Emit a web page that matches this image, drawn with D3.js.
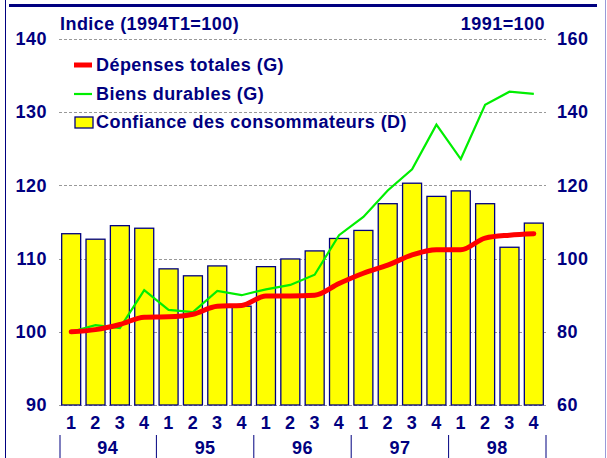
<!DOCTYPE html>
<html>
<head>
<meta charset="utf-8">
<script src="https://cdn.jsdelivr.net/npm/d3@7/dist/d3.min.js"></script>
<style>
  body { margin: 0; background: #fff; }
  svg { display: block; font-family: "Liberation Sans", Arial, sans-serif; font-weight: bold; }
  svg text { font-size: 18px; letter-spacing: 0.45px; }
</style>
</head>
<body>
<svg id="chart" width="607" height="458"></svg>
<script>
// quarters 1994T1 .. 1998T4
var quarters = ['1','2','3','4','1','2','3','4','1','2','3','4','1','2','3','4','1','2','3','4'];
var years = ['94', '95', '96', '97', '98'];

// left axis (1994T1=100)
var depensesTotales = [100, 100.3, 101, 102, 102.05, 102.4, 103.5, 103.6, 104.9, 104.9,
                       105, 106.6, 108, 109.1, 110.5, 111.2, 111.2, 112.8, 113.2, 113.4];
var biensDurables = [100, 100.9, 100.5, 105.7, 103, 102.7, 105.6, 105, 105.8, 106.4,
                     107.8, 113.2, 115.7, 119.3, 122.2, 128.3, 123.6, 131, 132.8, 132.5];
// right axis (1991=100)
var confiance = [106.8, 105.3, 109, 108.3, 97.2, 95.3, 98, 87, 97.8, 99.9,
                 102.1, 105.5, 107.7, 115, 120.6, 117, 118.5, 115, 103.1, 109.7];

var leftTicks = [90, 100, 110, 120, 130, 140];
var rightTicks = [60, 80, 100, 120, 140, 160];
var legendItems = ['Dépenses totales (G)', 'Biens durables (G)', 'Confiance des consommateurs (D)'];

var navy = '#000080';
var svg = d3.select('#chart');

var plotLeft = 59, plotRight = 546, plotTop = 39, plotBottom = 405;

var x = d3.scaleBand().domain(d3.range(quarters.length)).range([plotLeft, plotRight])
  .paddingInner(0.22).paddingOuter(0.11);
var yL = d3.scaleLinear().domain([90, 140]).range([plotBottom, plotTop]);
var yR = d3.scaleLinear().domain([60, 160]).range([plotBottom, plotTop]);

// frame
svg.append('line').attr('x1', 5.5).attr('x2', 5.5).attr('y1', 0).attr('y2', 458)
  .attr('stroke', navy).attr('stroke-width', 1);
svg.append('line').attr('x1', 9).attr('x2', 597).attr('y1', 5.5).attr('y2', 5.5)
  .attr('stroke', navy).attr('stroke-width', 3);
svg.append('line').attr('x1', 605.5).attr('x2', 605.5).attr('y1', 0).attr('y2', 458)
  .attr('stroke', '#9a9ad8').attr('stroke-width', 1);

// gridlines
svg.append('g').selectAll('line').data(leftTicks).enter().append('line')
  .attr('x1', plotLeft).attr('x2', plotRight)
  .attr('y1', function(d) { return Math.round(yL(d)) + 0.5; })
  .attr('y2', function(d) { return Math.round(yL(d)) + 0.5; })
  .attr('stroke', '#999').attr('stroke-width', 1.2).attr('stroke-dasharray', '3,2');

// bars
svg.append('g').selectAll('rect').data(confiance).enter().append('rect')
  .attr('x', function(d, i) { return x(i); })
  .attr('y', function(d) { return yR(d); })
  .attr('width', x.bandwidth())
  .attr('height', function(d) { return plotBottom - yR(d); })
  .attr('fill', '#ffff00').attr('stroke', navy).attr('stroke-width', 1.3);

var cx = function(d, i) { return x(i) + x.bandwidth() / 2; };

svg.append('path').datum(biensDurables)
  .attr('d', d3.line().x(cx).y(function(d) { return yL(d); }))
  .attr('fill', 'none').attr('stroke', '#00ee00').attr('stroke-width', 2.2);

svg.append('path').datum(depensesTotales)
  .attr('d', d3.line().x(cx).y(function(d) { return yL(d); }).curve(d3.curveMonotoneX))
  .attr('fill', 'none').attr('stroke', '#ff0000').attr('stroke-width', 5)
  .attr('stroke-linecap', 'round');

// axes labels
var gl = svg.append('g').attr('transform', 'translate(' + plotLeft + ',0)')
  .call(d3.axisLeft(yL).tickValues(leftTicks).tickSize(0).tickPadding(12));
var gr = svg.append('g').attr('transform', 'translate(' + plotRight + ',0)')
  .call(d3.axisRight(yR).tickValues(rightTicks).tickSize(0).tickPadding(11));
[gl, gr].forEach(function(g) {
  g.select('.domain').remove();
  g.attr('font-size', null).attr('font-family', null);
  g.selectAll('text').attr('fill', navy);
});

// quarter labels
svg.append('g').selectAll('text').data(quarters).enter().append('text')
  .attr('x', cx).attr('y', 429).attr('text-anchor', 'middle')
  .attr('fill', navy).text(function(d) { return d; });

// year separators and labels
var sepX = function(j) {
  if (j === 0) return plotLeft + 1;
  if (j === years.length) return plotRight;
  return x(j * 4) - x.step() * x.paddingInner() / 2;
};
svg.append('g').selectAll('line').data(d3.range(years.length + 1)).enter().append('line')
  .attr('x1', sepX).attr('x2', sepX)
  .attr('y1', 435).attr('y2', 458).attr('stroke', navy).attr('stroke-width', 1);
svg.append('g').selectAll('text').data(years).enter().append('text')
  .attr('x', function(d, j) { return (x(j * 4) + x(j * 4 + 3) + x.bandwidth()) / 2; })
  .attr('y', 454).attr('text-anchor', 'middle')
  .attr('fill', navy).text(function(d) { return d; });

// titles
svg.append('text').attr('x', 60).attr('y', 30).attr('fill', navy).text('Indice (1994T1=100)');
svg.append('text').attr('x', 545).attr('y', 30).attr('text-anchor', 'end').attr('fill', navy)
  .text('1991=100');

// legend
var legend = svg.append('g');
legend.append('line').attr('x1', 74).attr('x2', 92).attr('y1', 65).attr('y2', 65)
  .attr('stroke', '#ff0000').attr('stroke-width', 5);
legend.append('line').attr('x1', 74).attr('x2', 92).attr('y1', 94).attr('y2', 94)
  .attr('stroke', '#00ee00').attr('stroke-width', 2.2);
legend.append('rect').attr('x', 75).attr('y', 117).attr('width', 18).attr('height', 11)
  .attr('fill', '#ffff00').attr('stroke', navy).attr('stroke-width', 1.3);
legend.selectAll('text').data(legendItems).enter().append('text')
  .attr('x', 96).attr('y', function(d, i) { return 71 + i * 28.5; })
  .attr('fill', navy).text(function(d) { return d; });
</script>
</body>
</html>
